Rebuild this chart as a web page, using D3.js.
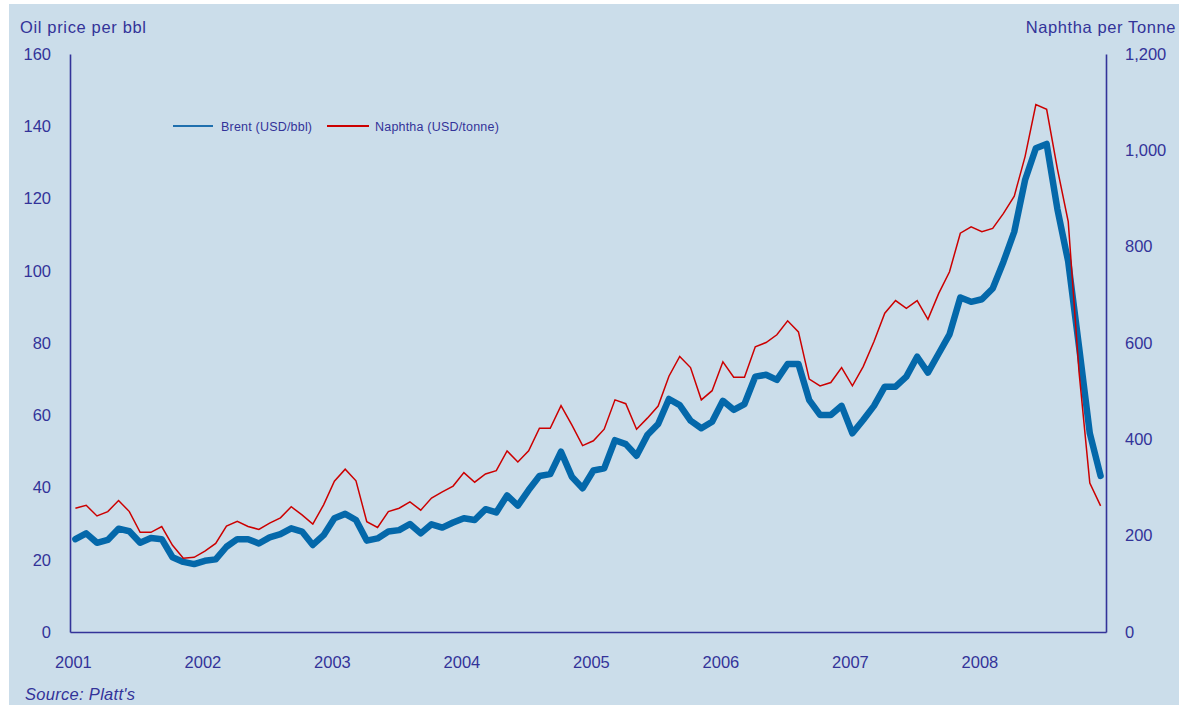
<!DOCTYPE html>
<html>
<head>
<meta charset="utf-8">
<script src="https://cdn.jsdelivr.net/npm/d3@7"></script>
<style>
  html, body { margin: 0; padding: 0; background: #ffffff; }
  svg { display: block; font-family: "Liberation Sans", Arial, sans-serif; }
</style>
</head>
<body>
<div id="chart"></div>
<script>
// data (monthly averages, Jan 2001 - Dec 2008)
const years = [2001, 2002, 2003, 2004, 2005, 2006, 2007, 2008];
const monthNames = ["01", "02", "03", "04", "05", "06", "07", "08", "09", "10", "11", "12"];

const brent = [
  25.7, 27.3, 24.7, 25.5, 28.6, 27.9, 24.7, 26.0, 25.7, 20.7, 19.4, 18.8,
  19.7, 20.1, 23.6, 25.7, 25.7, 24.5, 26.2, 27.1, 28.7, 27.8, 24.1, 26.8,
  31.5, 32.7, 31.0, 25.3, 25.9, 27.8, 28.2, 29.9, 27.3, 29.8, 28.9, 30.3,
  31.5, 31.0, 34.0, 33.1, 37.8, 35.0, 39.3, 43.2, 43.7, 49.9, 43.0, 39.8,
  44.7, 45.3, 53.1, 52.0, 48.8, 54.5, 57.6, 64.5, 62.8, 58.5, 56.4, 58.2,
  64.0, 61.5, 63.1, 70.7, 71.2, 69.8, 74.2, 74.2, 64.2, 60.1, 60.1, 62.6,
  55.0, 58.7, 62.6, 67.9, 67.9, 70.7, 76.2, 71.8, 77.1, 82.4, 92.6, 91.4,
  92.1, 95.1, 102.5, 110.8, 125.1, 133.9, 135.1, 117.0, 102.5, 79.0, 55.0, 43.2
];

const naphtha = [
  257, 263, 241, 250, 273, 250, 207, 207, 219, 180, 153, 155,
  168, 184, 220, 230, 219, 213, 226, 237, 260, 243, 224, 264,
  313, 338, 314, 229, 217, 250, 257, 270, 253, 278, 291, 303,
  331, 311, 328, 335, 376, 353, 376, 423, 423, 470, 430, 387,
  397, 421, 482, 474, 421, 444, 469, 531, 572, 549, 482, 501,
  561, 529, 529, 592, 601, 617, 646, 623, 525, 511, 518, 549,
  511, 551, 603, 662, 688, 672, 688, 649, 703, 748, 828, 841,
  831, 838, 869, 905, 987, 1095, 1085, 961, 852, 540, 309, 262
];

const leftTicks = [0, 20, 40, 60, 80, 100, 120, 140, 160];
const rightTicks = [0, 200, 400, 600, 800, 1000, 1200];

const months = [];
years.forEach(y => monthNames.forEach(m => months.push(`${y}-${m}`)));

const W = 1179, H = 705;
const margin = { top: 54, right: 73, bottom: 73, left: 70 };
const width = W - margin.left - margin.right;
const height = H - margin.top - margin.bottom;

const ink = "#333399";

const svgRoot = d3.select("#chart")
  .append("svg")
  .attr("width", W)
  .attr("height", H);

// panel background
svgRoot.append("rect")
  .attr("x", 9)
  .attr("y", 4)
  .attr("width", W - 9)
  .attr("height", H - 4)
  .attr("fill", "#cbddea");

const svg = svgRoot.append("g")
  .attr("transform", `translate(${margin.left},${margin.top})`);

const x = d3.scaleBand()
  .domain(months)
  .range([0, width])
  .padding(0);

const yL = d3.scaleLinear().domain([0, 160]).range([height, 0]);
const yR = d3.scaleLinear().domain([0, 1200]).range([height, 0]);

const cx = i => x(months[i]) + x.bandwidth() / 2;

// Axes
const axL = svg.append("g")
  .call(d3.axisLeft(yL).tickValues(leftTicks).tickSize(0).tickSizeOuter(0).tickPadding(19));

const axR = svg.append("g")
  .attr("transform", `translate(${width},0)`)
  .call(d3.axisRight(yR).tickValues(rightTicks).tickFormat(d3.format(",")).tickSize(0).tickSizeOuter(0).tickPadding(19));

const axB = svg.append("g")
  .attr("transform", `translate(0,${height})`)
  .call(d3.axisBottom(x)
    .tickValues(years.map(y => `${y}-01`))
    .tickFormat(d => d.slice(0, 4))
    .tickSize(0).tickSizeOuter(0).tickPadding(24));

[axL, axR, axB].forEach(a => {
  a.select(".domain").attr("stroke", ink).attr("stroke-width", 1.6);
  a.selectAll("text")
    .attr("fill", ink)
    .style("font-size", "16.5px")
    .style("font-family", "'Liberation Sans', Arial, sans-serif");
});
axB.selectAll("text").attr("dx", "-2px");

// Axis titles
svgRoot.append("text")
  .attr("x", 20)
  .attr("y", 33)
  .attr("fill", ink)
  .style("font-size", "16.5px")
  .style("letter-spacing", "0.65px")
  .text("Oil price per bbl");

svgRoot.append("text")
  .attr("x", 1176)
  .attr("y", 33)
  .attr("text-anchor", "end")
  .attr("fill", ink)
  .style("font-size", "16.5px")
  .style("letter-spacing", "0.6px")
  .text("Naphtha per Tonne");

// Lines
const lineL = d3.line()
  .x((d, i) => cx(i))
  .y(d => yL(d));

const lineR = d3.line()
  .x((d, i) => cx(i))
  .y(d => yR(d));

svg.append("path")
  .datum(brent)
  .attr("fill", "none")
  .attr("stroke", "#0468aa")
  .attr("stroke-width", 6.5)
  .attr("stroke-linejoin", "round")
  .attr("stroke-linecap", "round")
  .attr("d", lineL);

svg.append("path")
  .datum(naphtha)
  .attr("fill", "none")
  .attr("stroke", "#cc0000")
  .attr("stroke-width", 1.5)
  .attr("d", lineR);

// Legend
const legend = svgRoot.append("g");
legend.append("line")
  .attr("x1", 173).attr("x2", 213)
  .attr("y1", 126).attr("y2", 126)
  .attr("stroke", "#1f6fae")
  .attr("stroke-width", 2);
legend.append("text")
  .attr("x", 221).attr("y", 130.5)
  .attr("fill", ink)
  .style("font-size", "12.5px")
  .style("letter-spacing", "0.2px")
  .text("Brent  (USD/bbl)");
legend.append("line")
  .attr("x1", 327).attr("x2", 369)
  .attr("y1", 126).attr("y2", 126)
  .attr("stroke", "#cc0000")
  .attr("stroke-width", 2);
legend.append("text")
  .attr("x", 375).attr("y", 130.5)
  .attr("fill", ink)
  .style("font-size", "12.5px")
  .style("letter-spacing", "0.2px")
  .text("Naphtha  (USD/tonne)");

// Source
svgRoot.append("text")
  .attr("x", 25)
  .attr("y", 700)
  .attr("fill", ink)
  .style("font-size", "16.5px")
  .style("font-style", "italic")
  .style("letter-spacing", "0.3px")
  .text("Source: Platt's");
</script>
</body>
</html>
